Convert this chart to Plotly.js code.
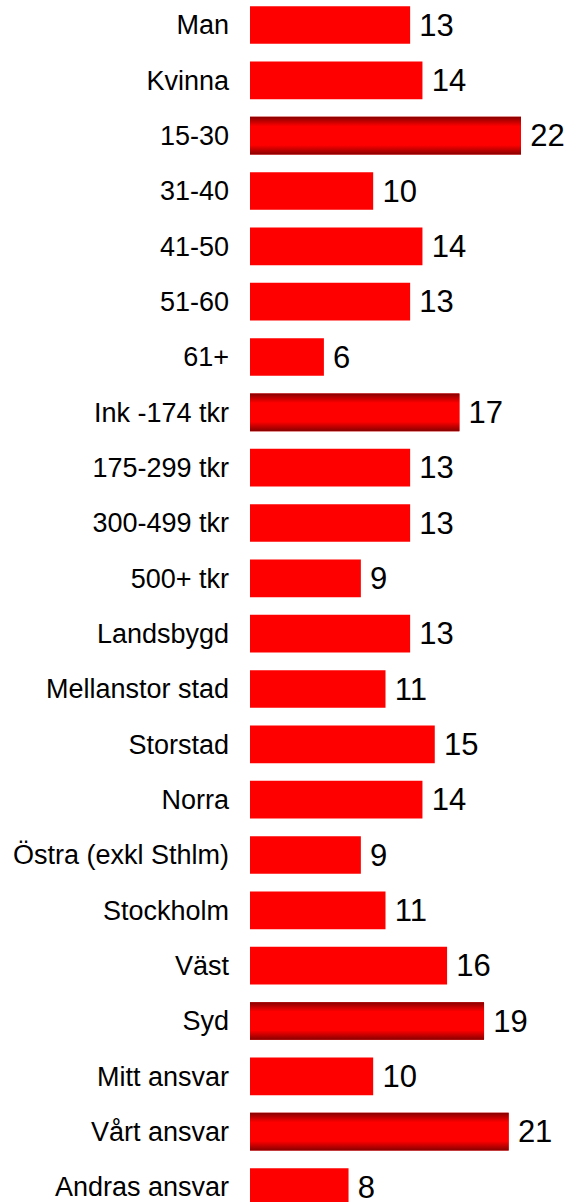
<!DOCTYPE html>
<html>
<head>
<meta charset="utf-8">
<script src="https://cdn.plot.ly/plotly-3.0.1.min.js"></script>
<style>html,body{margin:0;padding:0;background:#fff;}#chart{width:571px;height:1202px;}</style>
</head>
<body>
<div id="chart"></div>
<script>
var categories = ["Man","Kvinna","15-30","31-40","41-50","51-60","61+","Ink -174 tkr","175-299 tkr","300-499 tkr","500+ tkr","Landsbygd","Mellanstor stad","Storstad","Norra","Östra (exkl Sthlm)","Stockholm","Väst","Syd","Mitt ansvar","Vårt ansvar","Andras ansvar"];
var values = [13,14,22,10,14,13,6,17,13,13,9,13,11,15,14,9,11,16,19,10,21,8];
var highlighted = [false,false,true,false,false,false,false,true,false,false,false,false,false,false,false,false,false,false,true,false,true,false];

var positions = categories.map(function(_, i){ return i; });
var FONT = "'Liberation Sans', Arial, sans-serif";
var BAR_W = 0.68;
var HALF = BAR_W / 2;

var traces = [{
  type: 'bar',
  orientation: 'h',
  x: values,
  y: positions,
  width: BAR_W,
  marker: {color: '#ff0000', line: {width: 0}},
  text: values.map(function(v){ return '\u2009' + v; }),
  textposition: 'outside',
  textfont: {family: FONT, size: 31, color: '#000'},
  cliponaxis: false,
  hoverinfo: 'none'
}];

// vertical gradient overlay on highlighted bars (dark edges, bright centre)
values.forEach(function(v, i){
  if (!highlighted[i]) return;
  traces.push({
    type: 'scatter',
    mode: 'lines',
    x: [0, v, v, 0, 0],
    y: [i - HALF, i - HALF, i + HALF, i + HALF, i - HALF],
    fill: 'toself',
    line: {width: 0, color: 'rgba(0,0,0,0)'},
    fillgradient: {
      type: 'vertical',
      start: i - HALF,
      stop: i + HALF,
      colorscale: [[0, 'rgb(135,0,0)'], [0.25, 'rgb(255,0,0)'], [0.75, 'rgb(255,0,0)'], [1, 'rgb(135,0,0)']]
    },
    hoverinfo: 'none',
    showlegend: false
  });
});

var catSpacing = 1162 / 21;
var yTop = -25 / catSpacing;
var yBottom = yTop + 1202 / catSpacing;

var layout = {
  width: 571,
  height: 1202,
  margin: {l: 250, r: 0, t: 0, b: 0, pad: 0},
  paper_bgcolor: '#fff',
  plot_bgcolor: '#fff',
  barmode: 'overlay',
  showlegend: false,
  xaxis: {range: [0, 26.06], visible: false, fixedrange: true},
  yaxis: {
    range: [yBottom, yTop],
    tickvals: positions,
    ticktext: categories,
    showgrid: false,
    zeroline: false,
    showline: false,
    ticks: '',
    ticklabelstandoff: 20,
    ticklabeloverflow: 'allow',
    tickfont: {family: FONT, size: 27, color: '#000'},
    fixedrange: true
  },
  font: {family: FONT}
};

Plotly.newPlot('chart', traces, layout, {displayModeBar: false, staticPlot: true});
</script>
</body>
</html>
